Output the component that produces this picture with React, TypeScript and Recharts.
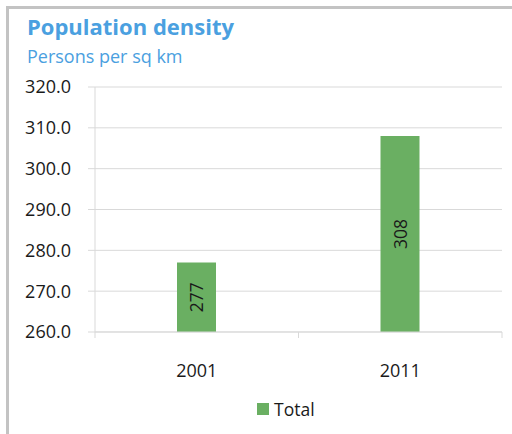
import { BarChart, Bar, XAxis, YAxis, CartesianGrid, Legend, LabelList } from 'recharts';

const years = ['2001', '2011'];
const totals = [277, 308];
const yTicks = [260, 270, 280, 290, 300, 310, 320];

const data = years.map((year, i) => ({ year, total: totals[i] }));

const FONT = '"Open Sans", "Noto Sans", sans-serif';
const WIDTH = 512;
const HEIGHT = 434;
const Y_AXIS_W = 95;
const RIGHT = 10;
const GRID = '#d9d9d9';
const GREEN = '#6aaf62';
const BLUE = '#4aa0e0';

const band = (WIDTH - Y_AXIS_W - RIGHT) / years.length;

function YearTick(props: any) {
  const { x, y, payload } = props;
  return (
    <g>
      <line x1={x - band / 2} x2={x - band / 2} y1={y} y2={y + 6} stroke={GRID} />
      <line x1={x + band / 2} x2={x + band / 2} y1={y} y2={y + 6} stroke={GRID} />
      <text x={x} y={y + 45} textAnchor="middle" fontSize={18} fontFamily={FONT} fill="#1a1a1a">
        {payload.value}
      </text>
    </g>
  );
}

function BarValue(props: any) {
  const { x, y, width, height, value } = props;
  const cx = x + width / 2;
  const cy = y + height / 2;
  return (
    <text
      x={cx}
      y={cy}
      transform={`rotate(-90 ${cx} ${cy})`}
      textAnchor="middle"
      dominantBaseline="central"
      fontSize={17.5}
      fontFamily={FONT}
      fill="#1a1a1a"
    >
      {value}
    </text>
  );
}

function LegendBox() {
  return (
    <div style={{ display: 'flex', alignItems: 'center', fontFamily: FONT, fontSize: 17.5, color: '#1a1a1a' }}>
      <span style={{ width: 12, height: 12, background: GREEN, display: 'inline-block', marginRight: 5 }} />
      <span>Total</span>
    </div>
  );
}

export default function App() {
  return (
    <div style={{ position: 'fixed', left: 0, top: 0, width: WIDTH, height: HEIGHT, background: '#fff', overflow: 'hidden' }}>
      <div
        style={{
          position: 'absolute',
          left: 6,
          top: 6,
          width: WIDTH - 6,
          height: HEIGHT - 6,
          borderTop: '3px solid #c3c3c3',
          borderLeft: '3px solid #c3c3c3',
          boxSizing: 'border-box',
        }}
      />
      <div style={{ position: 'absolute', left: 27, top: 12, fontFamily: FONT, fontWeight: 700, fontSize: 22, color: BLUE, lineHeight: '28px', whiteSpace: 'nowrap' }}>
        Population density
      </div>
      <div style={{ position: 'absolute', left: 27, top: 44, fontFamily: FONT, fontSize: 18, color: BLUE, lineHeight: '24px', whiteSpace: 'nowrap' }}>
        Persons per sq km
      </div>
      <div style={{ position: 'absolute', left: 0, top: 0 }}>
        <BarChart width={WIDTH} height={HEIGHT} data={data} margin={{ top: 87, right: RIGHT, bottom: 42, left: 0 }}>
          <CartesianGrid vertical={false} stroke={GRID} />
          <YAxis
            width={Y_AXIS_W}
            domain={[260, 320]}
            ticks={yTicks}
            interval={0}
            tickFormatter={(v: number) => v.toFixed(1)}
            tick={{ fontSize: 18, fontFamily: FONT, fill: '#1a1a1a' }}
            tickSize={7}
            tickMargin={17}
            tickLine={{ stroke: GRID }}
            axisLine={{ stroke: GRID }}
          />
          <XAxis
            dataKey="year"
            height={60}
            tickSize={0}
            tickMargin={0}
            tickLine={false}
            axisLine={{ stroke: GRID }}
            tick={<YearTick />}
            interval={0}
          />
          <Legend
            layout="horizontal"
            verticalAlign="middle"
            align="center"
            wrapperStyle={{ top: 397, left: 257, width: 'auto' }}
            content={<LegendBox />}
          />
          <Bar dataKey="total" name="Total" fill={GREEN} barSize={39} isAnimationActive={false}>
            <LabelList dataKey="total" content={<BarValue />} />
          </Bar>
        </BarChart>
      </div>
    </div>
  );
}
